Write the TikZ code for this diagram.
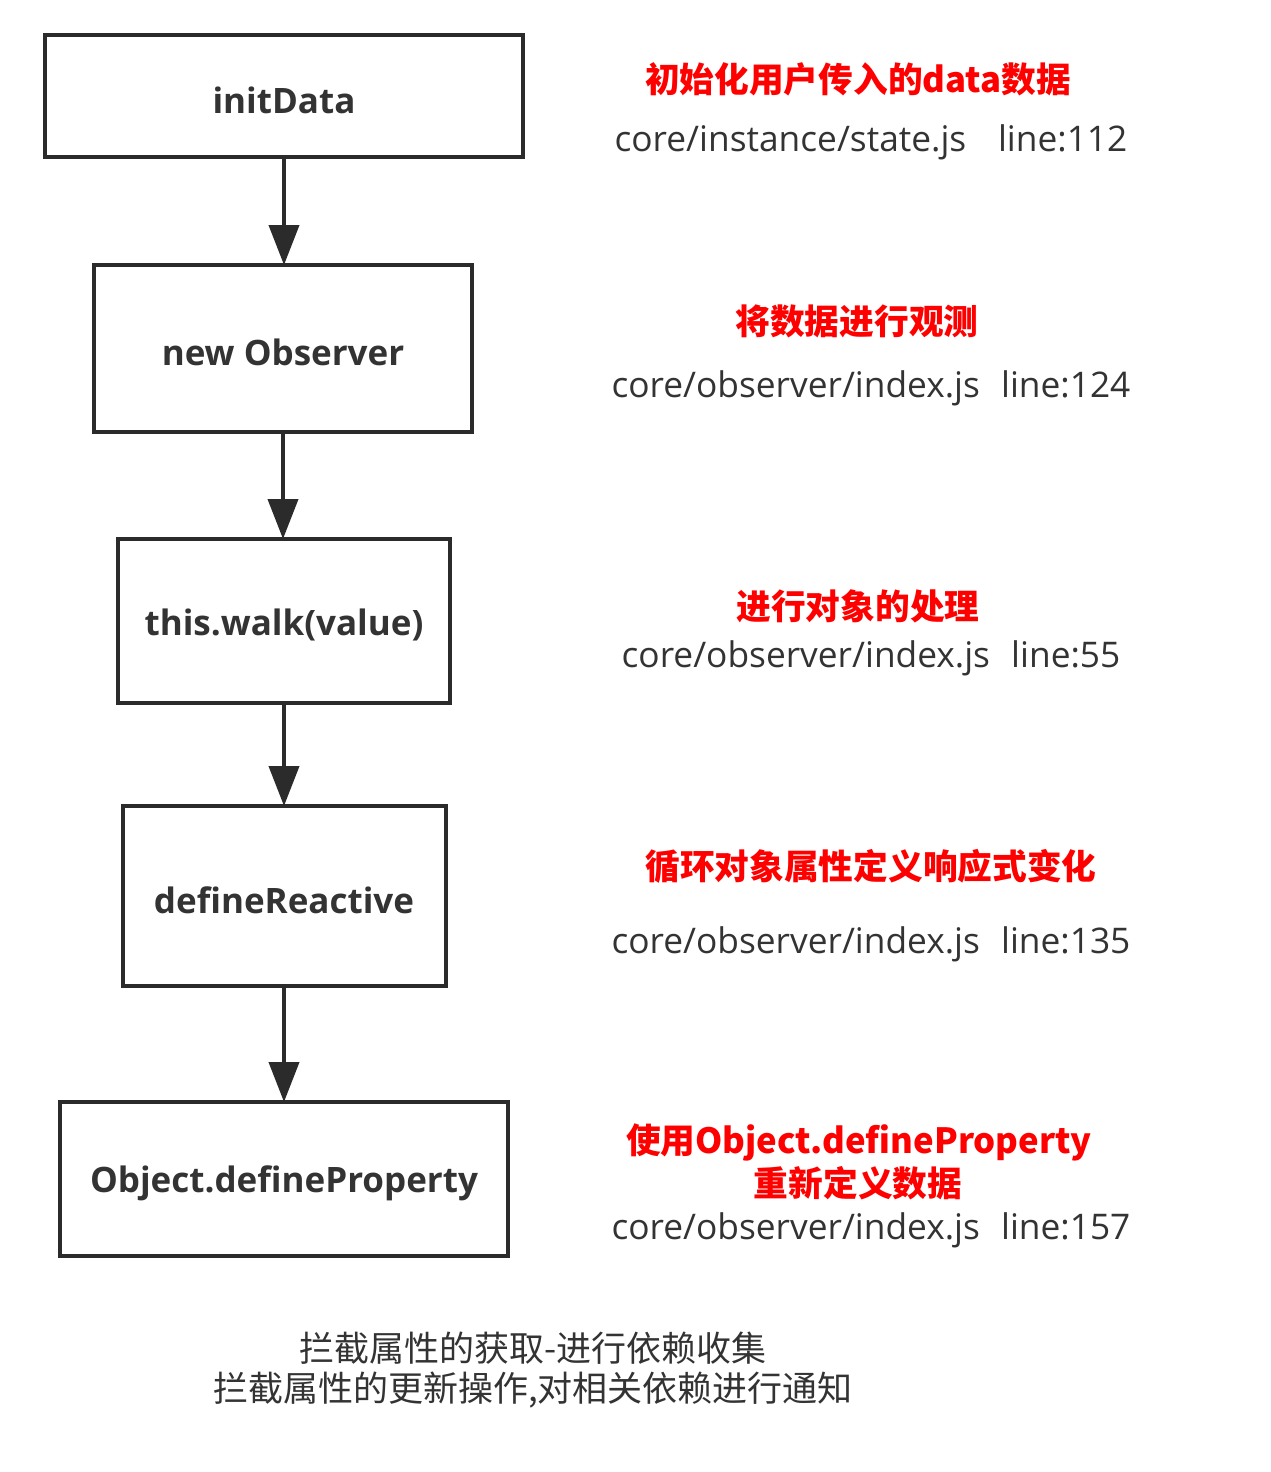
\documentclass[tikz,border=0pt]{standalone}
\usepackage{fontspec}
\setmainfont{Open Sans}
\newfontfamily\cjk{Noto Sans CJK SC}
\usetikzlibrary{arrows.meta}
\definecolor{ink}{HTML}{2B2B2B}
\definecolor{txt}{HTML}{333333}
\definecolor{hl}{HTML}{FF0000}
\newcommand{\lowtext}[1]{\raisebox{-4pt}[\height][\depth]{#1}}
\begin{document}
\begin{tikzpicture}[x=1pt,y=-1pt,
  box/.style={draw=ink,line width=4pt,rectangle,inner sep=0pt,outer sep=0pt,
    font=\bfseries\fontsize{35}{40}\selectfont,text=txt},
  flow/.style={draw=ink,line width=4pt,-{Triangle[width=30pt,length=40pt]}},
  note/.style={font=\cjk\bfseries\fontsize{34.7}{40}\selectfont,text=hl,inner sep=0pt},
  path/.style={font=\fontsize{35.3}{40}\selectfont,text=txt,inner sep=0pt},
  foot/.style={font=\cjk\fontsize{35}{42}\selectfont,text=txt,inner sep=0pt,align=center}]
\useasboundingbox[fill=white] (0,0) rectangle (1270,1472);

\node[box,minimum width=478pt,minimum height=122pt] (a) at (284,96) {\lowtext{initData}};
\node[box,minimum width=378pt,minimum height=167pt] (b) at (283,348.5) {\lowtext{new Observer}};
\node[box,minimum width=332pt,minimum height=164pt] (c) at (284,621) {\lowtext{this.walk(value)}};
\node[box,minimum width=323pt,minimum height=180pt] (d) at (284,896) {\lowtext{defineReactive}};
\node[box,minimum width=448pt,minimum height=154pt] (e) at (284,1179) {\lowtext{Object.defineProperty}};

\draw[flow] (a.south) -- (a.south |- b.north);
\draw[flow] (b.south) -- (b.south |- c.north);
\draw[flow] (c.south) -- (c.south |- d.north);
\draw[flow] (d.south) -- (d.south |- e.north);

\node[note] (n1) at (858,79.5) {初始化用户传入的data数据};
\node[path] (p1) at (871,142) {core/instance/state.js\hspace{0.9em}line:112};
\node[note] (n2) at (857,321) {将数据进行观测};
\node[path] (p2) at (871,388) {core/observer/index.js\hspace{0.6em}line:124};
\node[note] (n3) at (858,606) {进行对象的处理};
\node[path] (p3) at (871,658) {core/observer/index.js\hspace{0.6em}line:55};
\node[note] (n4) at (871,866) {循环对象属性定义响应式变化};
\node[path] (p4) at (871,944) {core/observer/index.js\hspace{0.6em}line:135};
\node[note] (n5) at (859,1142) {使用Object.defineProperty};
\node[note] (n6) at (858,1183) {重新定义数据};
\node[path] (p5) at (871,1230) {core/observer/index.js\hspace{0.6em}line:157};

\node[foot] (f1) at (533,1348) {拦截属性的获取-进行依赖收集};
\node[foot] (f2) at (533,1390) {拦截属性的更新操作,对相关依赖进行通知};
\end{tikzpicture}
\end{document}
